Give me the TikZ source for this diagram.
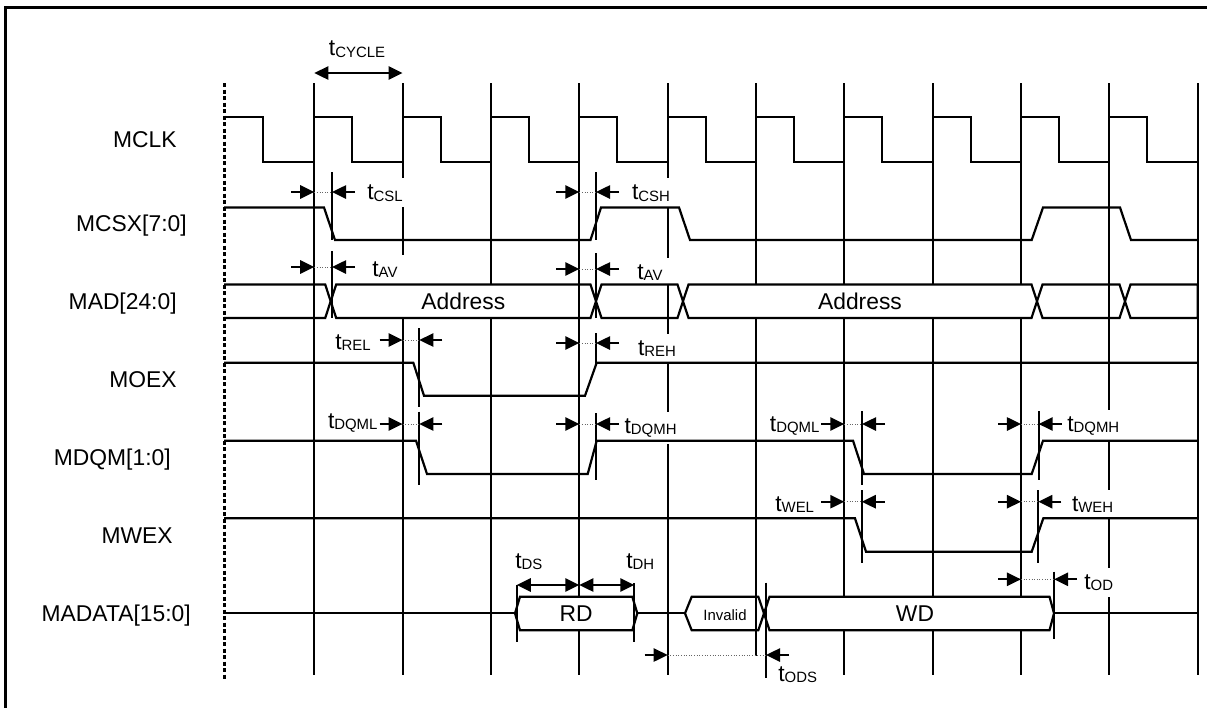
\documentclass[tikz,border=0pt]{standalone}
\usepackage{fontspec}
\setmainfont{Liberation Sans}
\usepackage{tikz}
\usetikzlibrary{arrows.meta}
\tikzstyle{sig} = [line width=1.25pt]
\tikzstyle{gridline} = [line width=1.25pt]
\tikzstyle{bus} = [line width=1.25pt, fill=white]
\tikzstyle{tick} = [line width=1.25pt]
\tikzstyle{tarrow} = [-{Triangle[length=8pt,width=7.5pt]}, line width=1.25pt]
\tikzstyle{tboth} = [{Triangle[length=8pt,width=7.5pt]}-{Triangle[length=8pt,width=7.5pt]}, line width=1.25pt]
\tikzstyle{dotline} = [densely dotted, line width=0.5pt, black!60]
\tikzstyle{signame} = [anchor=base east, inner sep=0pt, font=\fontsize{13}{15}\selectfont]
\tikzstyle{tlabel} = [anchor=base west, fill=white, inner sep=3.5pt, font=\fontsize{13}{15}\selectfont]
\tikzstyle{buslabel} = [inner sep=0pt, font=\fontsize{13}{15}\selectfont]
\newcommand{\tsub}[1]{t\raisebox{-1pt}{\fontsize{8.5}{9}\selectfont #1}}

\begin{document}
\begin{tikzpicture}[x=0.02cm, y=-0.02cm]
      \useasboundingbox (0,0) rectangle (1207,708);
      \draw[line width=1.8pt] (1207,7.3) -- (5.5,7.3) -- (5.5,708);

      % clock grid
      \draw[line width=1.5pt, dash pattern=on 2.4pt off 1.3pt] (224.5,83) -- (224.5,680);
      \foreach \k in {0,1,2,3,4,6,7,8,9,10}
        \draw[gridline] ({314.3+88.34*\k},83) -- ({314.3+88.34*\k},675);
      \draw[gridline] (756,83) -- (756,655.7);

      \node[tlabel, anchor=base] (tcycle) at (357,55.5) {\tsub{CYCLE}};
      \node[tlabel] (tcsl) at (360.8,199.3) {\tsub{CSL}};
      \node[tlabel] (tcsh) at (625.5,199.3) {\tsub{CSH}};
      \node[tlabel] (tav1) at (365.8,276) {\tsub{AV}};
      \node[tlabel] (tav2) at (630.8,279) {\tsub{AV}};
      \node[tlabel] (trel) at (328.8,349) {\tsub{REL}};
      \node[tlabel] (treh) at (631.5,355) {\tsub{REH}};
      \node[tlabel] (tdqml1) at (321.5,428) {\tsub{DQML}};
      \node[tlabel] (tdqmh1) at (618.1,433) {\tsub{DQMH}};
      \node[tlabel] (tdqml2) at (763.4,431) {\tsub{DQML}};
      \node[tlabel] (tdqmh2) at (1060.8,431) {\tsub{DQMH}};
      \node[tlabel] (twel) at (768.8,511) {\tsub{WEL}};
      \node[tlabel] (tweh) at (1065.5,511) {\tsub{WEH}};
      \node[tlabel] (tod) at (1077.8,589) {\tsub{OD}};
      \node[tlabel] (tods) at (771.8,681) {\tsub{ODS}};
      \node[tlabel] (tds) at (508.8,568) {\tsub{DS}};
      \node[tlabel] (tdh) at (619.8,568) {\tsub{DH}};

      % buses
      \draw[sig] (224,284.5) -- (325.2,284.5) -- (330.7,301.25) -- (325.2,318) -- (224,318);
      \draw[bus] (330.7,301.25) -- (336.2,284.5) -- (590.5,284.5) -- (596,301.25) -- (590.5,318) -- (336.2,318) -- cycle;
      \draw[bus] (596,301.25) -- (601.5,284.5) -- (677.5,284.5) -- (683,301.25) -- (677.5,318) -- (601.5,318) -- cycle;
      \draw[bus] (683,301.25) -- (688.5,284.5) -- (1031.5,284.5) -- (1037,301.25) -- (1031.5,318) -- (688.5,318) -- cycle;
      \draw[bus] (1037,301.25) -- (1042.5,284.5) -- (1119.5,284.5) -- (1125,301.25) -- (1119.5,318) -- (1042.5,318) -- cycle;
      \draw[bus] (1125,301.25) -- (1130.5,284.5) -- (1197.7,284.5) -- (1197.7,318) -- (1130.5,318) -- cycle;
      \draw[sig] (224,613.3) -- (515,613.3);
      \draw[bus] (515,613.3) -- (520,596.7) -- (632.3,596.7) -- (637.3,613.3) -- (632.3,630.3) -- (520,630.3) -- cycle;
      \draw[sig] (637.3,613.3) -- (685,613.3);
      \draw[bus] (685,613.3) -- (691.7,596.7) -- (758.3,596.7) -- (764,613.3) -- (758.3,630.3) -- (691.7,630.3) -- cycle;
      \draw[bus] (764,613.3) -- (769.5,596.7) -- (1049.5,596.7) -- (1054,613.3) -- (1049.5,630.3) -- (769.5,630.3) -- cycle;
      \draw[sig] (1054,613.3) -- (1197.7,613.3);
      \foreach \k in {0,3,4,9}
        \draw[gridline] ({314.3+88.34*\k},284.5) -- ({314.3+88.34*\k},318);
      \draw[gridline] (756,596.7) -- (756,630.3);

      \node[buslabel] (addr1) at (463.3,301.25) {Address};
      \node[buslabel] (addr2) at (860,301.25) {Address};
      \node[buslabel] (rd) at (576,613.3) {RD};
      \node[buslabel, font=\fontsize{8.5}{10}\selectfont] (invalid) at (725,615) {Invalid};
      \node[buslabel] (wd) at (915,613.3) {WD};

      \node[signame] (mclk) at (177,147.7) {MCLK};
      \node[signame] (mcsx) at (187,231.9) {MCSX[7:0]};
      \node[signame] (mad) at (177,309.4) {MAD[24:0]};
      \node[signame] (moex) at (177,387.4) {MOEX};
      \node[signame] (mdqm) at (171,465.5) {MDQM[1:0]};
      \node[signame] (mwex) at (173,543.2) {MWEX};
      \node[signame] (madata) at (191,621.5) {MADATA[15:0]};

      % signals
      \draw[sig] (224,117) -- (263,117) -- (263,162)
        \foreach \k in {0,...,9} { -- ({314.3+88.34*\k},162) -- ({314.3+88.34*\k},117)
          -- ({352.3+88.34*\k},117) -- ({352.3+88.34*\k},162) } -- (1197.7,162);
      \draw[sig] (224,207.5) -- (324,207.5) -- (335,240) -- (590.5,240) -- (601,207.5) -- (679,207.5)
        -- (690,240) -- (1031.7,240) -- (1043,207.5) -- (1120,207.5) -- (1131,240) -- (1197.7,240);
      \draw[sig] (224,362.7) -- (413.3,362.7) -- (424,395.7) -- (585,395.7) -- (596.7,362.7) -- (1197.7,362.7);
      \draw[sig] (224,440.7) -- (416,440.7) -- (427,474) -- (587.7,474) -- (596.7,440.7) -- (853,440.7)
        -- (864,474) -- (1031.7,474) -- (1043,440.7) -- (1197.7,440.7);
      \draw[sig] (224,518.3) -- (855,518.3) -- (866,551.7) -- (1031.7,551.7) -- (1043.3,518.3) -- (1197.7,518.3);

      % timing marks
      \foreach \x/\ya/\yb in {332/172/240, 596/172/240, 332/251/318, 596/253/318, 419.3/328/407,
          596/333/365, 419.3/411.7/485, 596/413/480, 862/411/485, 1038.6/411/480, 861.7/490/563,
          1038.3/490/563, 516.7/585/641.7, 634.3/583/641.7, 766/582.7/678.3, 1054/571.7/639.3}
        \draw[tick] (\x,\ya) -- (\x,\yb);
      \foreach \xa/\xb/\yy in {314.3/332/192, 579.3/596/192, 314.3/332/267, 579.3/596/269,
          402.6/419.3/340, 579.3/596/343, 402.6/419.3/424, 579.3/596/424, 844.3/862/424,
          1021/1038.6/424, 844.3/861.7/501.7, 1021/1038.3/501.7, 1021/1054/579.3, 667.7/766/655} {
        \draw[tarrow] ({\xa-23},\yy) -- (\xa,\yy);
        \draw[dotline] (\xa,\yy) -- (\xb,\yy);
        \draw[tarrow] ({\xb+23},\yy) -- (\xb,\yy);
      }
      \draw[tboth] (314.3,73) -- (402.6,73);
      \draw[tboth] (516.7,585) -- (579.3,585);
      \draw[tboth] (579.3,585) -- (634.3,585);
    \end{tikzpicture}
\end{document}
